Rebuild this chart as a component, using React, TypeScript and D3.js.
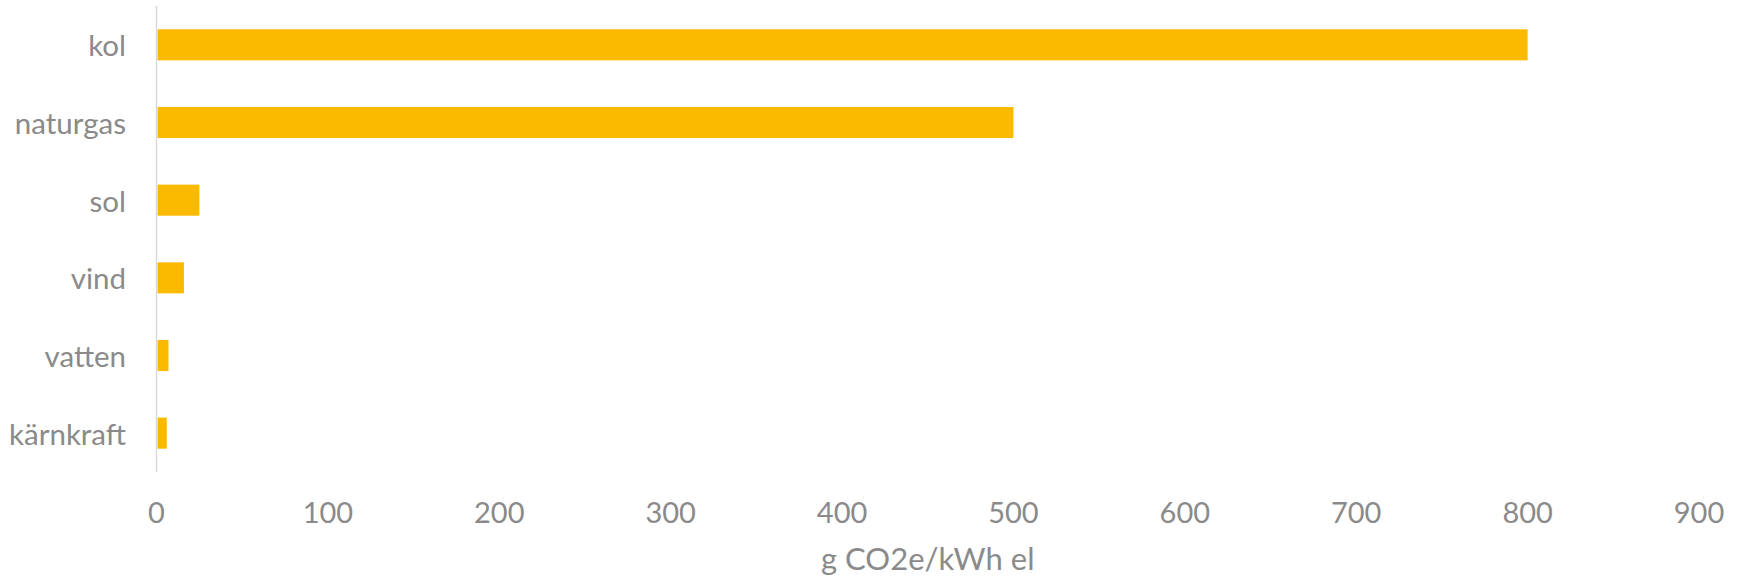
import React from "react";
import * as d3 from "d3";

const categories = ["kol", "naturgas", "sol", "vind", "vatten", "kärnkraft"];
const values = [800, 500, 25, 16, 7, 6];
const xTicks = [0, 100, 200, 300, 400, 500, 600, 700, 800, 900];
const axisTitle = "g CO2e/kWh el";

const W = 1739;
const H = 581;
const FONT = "Lato, 'Open Sans', sans-serif";
const GRAY = "#8a8a8a";

export default function App() {
  const x = d3.scaleLinear().domain([0, 900]).range([156.5, 1699]);
  const y = d3
    .scaleBand<string>()
    .domain(categories)
    .range([6, 472])
    .paddingInner(0.6)
    .paddingOuter(0.3);

  return (
    <svg
      width={W}
      height={H}
      style={{ position: "absolute", left: 0, top: 0, display: "block", background: "#fff" }}
    >
      {categories.map((c, i) => (
        <rect
          key={c}
          x={x(0) + 1}
          y={y(c)!}
          width={x(values[i]) - x(0) - 1}
          height={y.bandwidth()}
          fill="#fbba00"
        />
      ))}
      <line x1={x(0)} x2={x(0)} y1={6} y2={472} stroke="#d9d9d9" strokeWidth={1.5} />
      {categories.map((c) => (
        <text
          key={c}
          x={126}
          y={y(c)! + y.bandwidth() / 2}
          textAnchor="end"
          dominantBaseline="central"
          fontFamily={FONT}
          fontSize={29.5}
          fill={GRAY}
        >
          {c}
        </text>
      ))}
      {xTicks.map((t) => (
        <text
          key={t}
          x={x(t)}
          y={523}
          textAnchor="middle"
          fontFamily={FONT}
          fontSize={29}
          fill={GRAY}
        >
          {t}
        </text>
      ))}
      <text
        x={(x(0) + x(900)) / 2}
        y={570}
        textAnchor="middle"
        fontFamily={FONT}
        fontSize={31}
        fill={GRAY}
      >
        {axisTitle}
      </text>
    </svg>
  );
}
